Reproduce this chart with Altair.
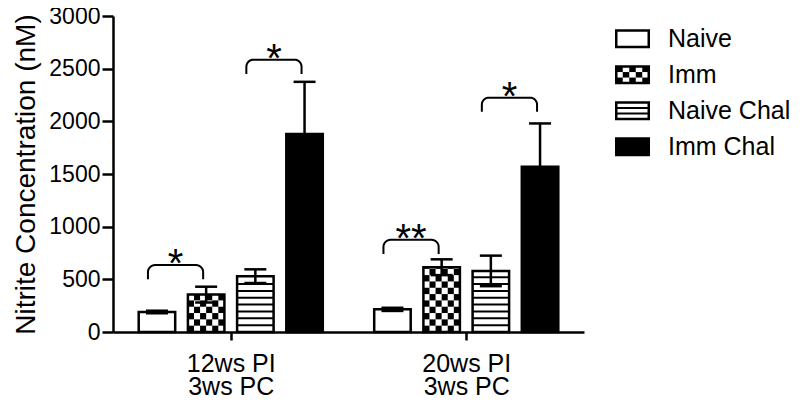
import math
import altair as alt
import pandas as pd

# ---------------- data ----------------
groups = ["12ws PI\n3ws PC", "20ws PI\n3ws PC"]
series = ["Naive", "Imm", "Naive Chal", "Imm Chal"]
means_12 = [190, 355, 530, 1880]
errs_12 = [12, 75, 65, 495]
means_20 = [215, 615, 580, 1570]
errs_20 = [15, 75, 145, 410]

# significance brackets
sig_group = [0, 0, 1, 1]
sig_left = [0, 2, 0, 2]          # bracket spans series i and i+1
sig_base = [500, 2450, 740, 2090]
sig_label = ["*", "*", "**", "*"]

# ---------------- layout / style constants ----------------
FONT = "Liberation Sans"
W, H = 471, 316
PXX = W / 2.0            # px per x unit (domain -0.5..1.5)
PXY = H / 3000.0         # px per nM
STEP = 49.2 / PXX        # bar step
HALF = 18.25 / PXX       # bar half width
CAP = 11 / PXX           # error cap half width
SW = 2.5

fills = ["white", "white", "white", "black"]

rows = []
for g, (m, e) in enumerate([(means_12, errs_12), (means_20, errs_20)]):
    for s, name in enumerate(series):
        xc = g + (s - 1.5) * STEP
        rows.append(dict(group=g, series=name, s=s, xc=xc, xl=xc - HALF, xr=xc + HALF,
                         y0=0, v=m[s], lo=m[s] - e[s], hi=m[s] + e[s],
                         cl=xc - CAP, cr=xc + CAP))
bars = pd.DataFrame(rows)

# checkerboard cells for "Imm"
cells = []
CH = 60.0
for _, b in bars[bars.series == "Imm"].iterrows():
    cw = (b.xr - b.xl) / 6
    nrow = int(math.ceil(b.v / CH))
    for r in range(nrow):
        for c in range(6):
            if (r + c) % 2 == 0:
                cells.append(dict(x1=b.xl + c * cw, x2=b.xl + (c + 1) * cw,
                                  y1=r * CH, y2=min((r + 1) * CH, b.v)))
cells = pd.DataFrame(cells)

# stripes for "Naive Chal"
stripes = []
SH = 65.0
for _, b in bars[bars.series == "Naive Chal"].iterrows():
    y = SH
    while y < b.v - 15:
        stripes.append(dict(x1=b.xl, x2=b.xr, y=y))
        y += SH
stripes = pd.DataFrame(stripes)

# error caps
caps = pd.concat([bars.assign(y=bars.hi), bars.assign(y=bars.lo)])

# brackets
br_pts, stars = [], []
RX, RY = 7 / PXX, 7 / PXY
BH = 135
for k in range(len(sig_group)):
    g, s = sig_group[k], sig_left[k]
    xa = g + (s - 1.5) * STEP - 9 / PXX
    xb = g + (s + 1 - 1.5) * STEP - 3 / PXX
    base = sig_base[k]
    top = base + BH
    pts = [(xa, base)]
    for i in range(9):
        t = math.pi / 2 * i / 8
        pts.append((xa + RX - RX * math.cos(t), top - RY + RY * math.sin(t)))
    for i in range(9):
        t = math.pi / 2 * i / 8
        pts.append((xb - RX + RX * math.sin(t), top - RY + RY * math.cos(t)))
    pts.append((xb, base))
    for j, (px, py) in enumerate(pts):
        br_pts.append(dict(id=k, o=j, x=px, y=py))
    stars.append(dict(x=(xa + xb) / 2, y=top, t=sig_label[k]))
br_pts = pd.DataFrame(br_pts)
stars = pd.DataFrame(stars)

# legend (in chart units)
LX1 = (616.25 - 113) / PXX - 0.5
LX2 = (648.75 - 113) / PXX - 0.5
LTX = (668 - 113) / PXX - 0.5
LY0 = (332 - 38.8) / PXY
LSTEP = 36 / PXY
LHH = 8.25 / PXY
leg = pd.DataFrame([dict(series=n, x1=LX1, x2=LX2, yc=LY0 - i * LSTEP,
                         y1=LY0 - i * LSTEP - LHH, y2=LY0 - i * LSTEP + LHH,
                         tx=LTX) for i, n in enumerate(series)])
lcells = []
lc = leg[leg.series == "Imm"].iloc[0]
cw = (LX2 - LX1) / 5
chh = (2 * LHH) / 3
for r in range(3):
    for c in range(5):
        if (r + c) % 2 == 0:
            lcells.append(dict(x1=LX1 + c * cw, x2=LX1 + (c + 1) * cw,
                               y1=lc.y2 - (r + 1) * chh, y2=lc.y2 - r * chh))
lcells = pd.DataFrame(lcells)
ls = leg[leg.series == "Naive Chal"].iloc[0]
lstripes = pd.DataFrame([dict(x1=LX1, x2=LX2, y=ls.yc + d) for d in (-LHH / 3, LHH / 3)])

# ---------------- axes ----------------
parts = [g.split("\n") for g in groups]
arr = ["[" + ",".join("'" + p + "'" for p in pl) + "]" for pl in parts]
label_expr = f"datum.value == 0 ? {arr[0]} : {arr[1]}"

xscale = alt.Scale(domain=[-0.5, 1.5], nice=False, zero=False)
yscale = alt.Scale(domain=[0, 3000], nice=False, zero=False)
xaxis = alt.Axis(values=[0, 1], labelExpr=label_expr, title=None, grid=False,
                 tickSize=8, tickWidth=SW, tickColor="black", domainColor="black",
                 domainWidth=SW, labelFontSize=25, labelFont=FONT, labelColor="black",
                 labelPadding=11, labelLineHeight=23, labelBaseline="top")
yaxis = alt.Axis(values=list(range(0, 3001, 500)), format="d",
                 title="Nitrite Concentration (nM)",
                 titleFontSize=28, titleFont=FONT, titleFontWeight="normal",
                 titleColor="black", titlePadding=8, grid=False, tickSize=11,
                 tickWidth=SW, tickColor="black", domainColor="black", domainWidth=SW,
                 labelFontSize=23, labelFont=FONT, labelColor="black", labelPadding=2)


def X(f):
    return alt.X(f, type="quantitative", scale=xscale, axis=xaxis)


def Y(f):
    return alt.Y(f, type="quantitative", scale=yscale, axis=yaxis)


color = alt.Color("series:N", scale=alt.Scale(domain=series, range=fills), legend=None)

bar_fill = alt.Chart(bars).mark_rect(strokeWidth=0).encode(
    x=X("xl"), x2="xr", y=Y("y0"), y2="v", fill=color)
checker = alt.Chart(cells).mark_rect(color="black").encode(
    x=X("x1"), x2="x2", y=Y("y1"), y2="y2")
stripe = alt.Chart(stripes).mark_rule(color="black", strokeWidth=2).encode(
    x=X("x1"), x2="x2", y=Y("y"))
bar_outline = alt.Chart(bars).mark_rect(fillOpacity=0, stroke="black", strokeWidth=SW).encode(
    x=X("xl"), x2="xr", y=Y("y0"), y2="v")
stem = alt.Chart(bars).mark_rule(color="black", strokeWidth=SW).encode(
    x=X("xc"), y=Y("lo"), y2="hi")
cap = alt.Chart(caps).mark_rule(color="black", strokeWidth=SW).encode(
    x=X("cl"), x2="cr", y=Y("y"))
brackets = alt.Chart(br_pts).mark_line(color="black", strokeWidth=2).encode(
    x=X("x"), y=Y("y"), detail="id:N", order="o:Q")
star_txt = alt.Chart(stars).mark_text(font=FONT, fontSize=40, baseline="alphabetic",
                                      align="center", dy=12, color="black").encode(
    x=X("x"), y=Y("y"), text="t:N")

leg_fill = alt.Chart(leg).mark_rect(strokeWidth=0).encode(
    x=X("x1"), x2="x2", y=Y("y1"), y2="y2", fill=color)
leg_cells = alt.Chart(lcells).mark_rect(color="black").encode(
    x=X("x1"), x2="x2", y=Y("y1"), y2="y2")
leg_stripes = alt.Chart(lstripes).mark_rule(color="black", strokeWidth=2).encode(
    x=X("x1"), x2="x2", y=Y("y"))
leg_outline = alt.Chart(leg).mark_rect(fillOpacity=0, stroke="black", strokeWidth=SW).encode(
    x=X("x1"), x2="x2", y=Y("y1"), y2="y2")
leg_text = alt.Chart(leg).mark_text(font=FONT, fontSize=25, align="left",
                                    baseline="middle", color="black").encode(
    x=X("tx"), y=Y("yc"), text="series:N")

chart = alt.layer(
    bar_fill, checker, stripe, bar_outline, stem, cap, brackets, star_txt,
    leg_fill, leg_cells, leg_stripes, leg_outline, leg_text
).properties(
    width=W, height=H,
    autosize=alt.AutoSizeParams(type="none"),
    padding={"left": 105, "top": 8, "right": 207, "bottom": 66},
).configure_view(stroke=None)

chart.save("out.html", embed_options={"renderer": "svg", "actions": False})
